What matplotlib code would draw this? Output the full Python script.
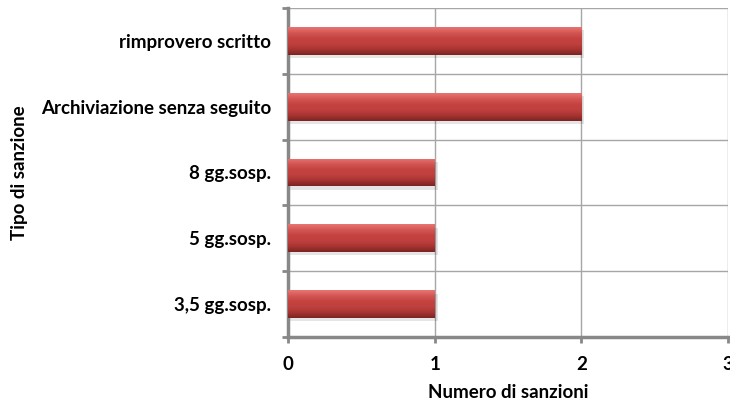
import numpy as np
import matplotlib.pyplot as plt
from matplotlib.colors import LinearSegmentedColormap

categorie = ['3,5 gg.sosp.', '5 gg.sosp.', '8 gg.sosp.',
             'Archiviazione senza seguito', 'rimprovero scritto']
sanzioni = [1, 1, 1, 2, 2]
x_ticks = [0, 1, 2, 3]

plt.rcParams['font.family'] = ['Lato', 'DejaVu Sans']
plt.rcParams['font.weight'] = 'bold'

fig = plt.figure(figsize=(7.3, 4.03), dpi=100)
ax = fig.add_axes([0.3945, 0.164, 0.603, 0.816])

y = np.arange(len(categorie))
altezza = 0.42

# barre "cilindriche": colore base + sfumatura verticale (scuro sotto, chiaro sopra)
cmap = LinearSegmentedColormap.from_list(
    'rosso', ['#7a2523', '#a83432', '#c0403e', '#c44341', '#d45654', '#e87472'])
grad = np.linspace(0, 1, 64).reshape(-1, 1)
bars = ax.barh(y, sanzioni, height=altezza, color='#c0403e', zorder=3)
for b in bars:
    x0, y0 = b.get_x(), b.get_y()
    w, h = b.get_width(), b.get_height()
    # ombra sotto la barra
    ax.barh(y0 + h / 2 - 0.05, w + 0.02, height=h, left=x0, color='#000000',
            alpha=0.10, zorder=2, linewidth=0)
    im = ax.imshow(grad, cmap=cmap, aspect='auto', extent=(x0, x0 + w, y0, y0 + h),
                   origin='lower', zorder=4)
    im.set_clip_path(b)

ax.set_xlim(0, 3)
ax.set_ylim(-0.5, len(categorie) - 0.5)
ax.set_xticks(x_ticks)
ax.set_xticklabels([str(v) for v in x_ticks], fontsize=13.5, fontweight='bold')
ax.set_yticks(y)
ax.set_yticklabels(categorie, fontsize=13.5, fontweight='bold')
ax.set_yticks(np.arange(-0.5, len(categorie)), minor=True)

ax.grid(axis='x', color='#a6a6a6', linewidth=1, zorder=0)
ax.grid(axis='y', which='minor', color='#a6a6a6', linewidth=1, zorder=0)
ax.tick_params(axis='y', which='major', length=0, pad=12)
ax.tick_params(axis='y', which='minor', length=4, width=2, color='#888888', direction='out')
ax.tick_params(axis='x', length=4, width=2, color='#888888', pad=10)

for lato in ['top', 'right']:
    ax.spines[lato].set_visible(False)
for lato in ['left', 'bottom']:
    ax.spines[lato].set_color('#888888')
    ax.spines[lato].set_linewidth(2.5)

ax.set_xlabel('Numero di sanzioni', fontsize=13.5, fontweight='bold', labelpad=8)
ax.set_ylabel('Tipo di sanzione', fontsize=13.5, fontweight='bold')
ax.yaxis.set_label_coords(-0.59, 0.5)

fig.savefig('out.png', dpi=100)
